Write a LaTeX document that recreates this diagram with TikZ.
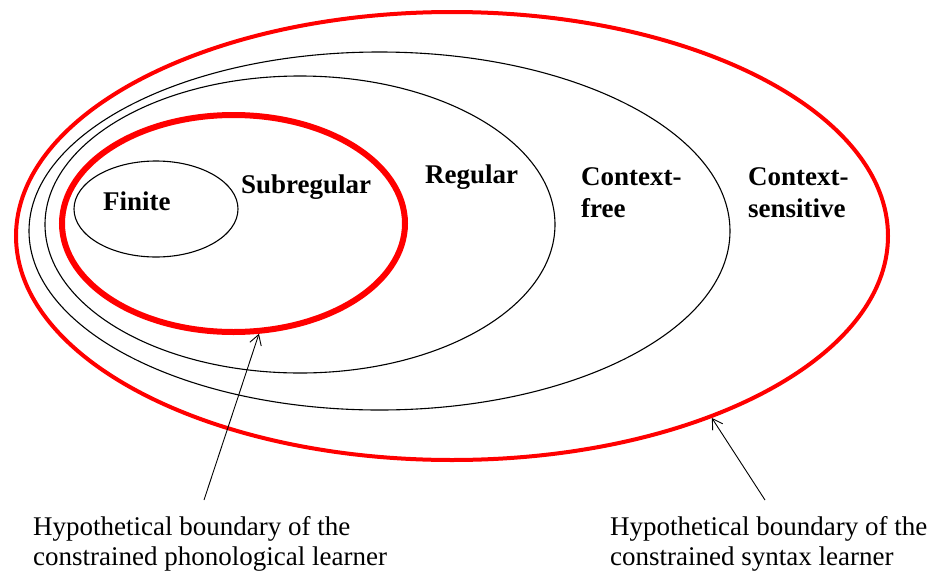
\documentclass[tikz,border=0pt]{standalone}
\usepackage{fontspec}
\setmainfont{Liberation Serif}
\usetikzlibrary{shapes.geometric,arrows.meta}
\begin{document}
\begin{tikzpicture}[x=1pt,y=-1pt,
  langset/.style={draw=black, ellipse, inner sep=0pt, line width=1.1pt},
  redset/.style={draw=red, ellipse, inner sep=0pt, line width=#1},
  lbl/.style={font=\fontsize{27}{32}\selectfont\bfseries, inner sep=0pt, anchor=base west, align=left},
  note/.style={font=\fontsize{27}{30}\selectfont, inner sep=0pt, anchor=base west, align=left},
  pointer/.style={draw=black, line width=0.9pt, -{Straight Barb[length=10pt,width=12pt]}}
]
\useasboundingbox (0,0) rectangle (938,571);
% sets
\node[redset=4pt, minimum width=872pt, minimum height=448pt] (syn) at (452,236) {};
\node[langset, minimum width=701pt, minimum height=358pt] (cs) at (379.5,231) {};
\node[langset, minimum width=510pt, minimum height=297pt] (reg) at (300,224.5) {};
\node[redset=6pt, minimum width=343pt, minimum height=217pt] (sub) at (233.5,223.5) {};
\node[langset, minimum width=164pt, minimum height=96pt] (fin) at (156,209) {};
% labels (multi-line nodes: base = last line)
\node[lbl] (lfin) at (103,210) {Finite};
\node[lbl] (lsub) at (241,193) {Subregular};
\node[lbl] (lreg) at (425,183) {Regular};
\node[lbl] (lcf) at (581,217) {Context-\\free};
\node[lbl] (lcs) at (748,217) {Context-\\sensitive};
% notes
\node[note] (nphon) at (33,565) {Hypothetical boundary of the\\constrained phonological learner};
\node[note] (nsyn) at (610,565) {Hypothetical boundary of the\\constrained syntax learner};
% arrows
\coordinate (aphon) at (204,500);
\coordinate (asyn) at (765,500);
\draw[pointer] (aphon) -- (sub.-77.2);
\draw[pointer] (asyn) -- (syn.-35.9);
\end{tikzpicture}
\end{document}
